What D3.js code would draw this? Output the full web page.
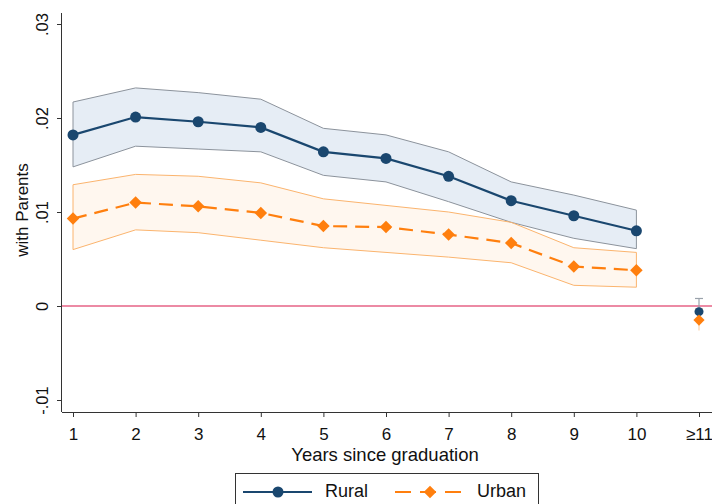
<!DOCTYPE html>
<html><head><meta charset="utf-8">
<script src="https://cdn.jsdelivr.net/npm/d3@7"></script>
<style>body{margin:0;background:#fff}svg{display:block}text{font-family:"Liberation Sans",Arial,sans-serif;fill:#111}</style>
</head><body><svg id="c" width="712" height="504"></svg>
<script>
const years = [1,2,3,4,5,6,7,8,9,10];
const xTickLabels = ["1","2","3","4","5","6","7","8","9","10","≥11"];
const yTicks = [-0.01, 0, 0.01, 0.02, 0.03];
const yTickLabels = ["-.01","0",".01",".02",".03"];
const ruralEst = [0.0182,0.0201,0.0196,0.0190,0.0164,0.0157,0.0138,0.0112,0.0096,0.0080];
const ruralHi  = [0.0217,0.0232,0.0227,0.0220,0.0189,0.0182,0.0164,0.0132,0.0118,0.0102];
const ruralLo  = [0.0148,0.0170,0.0167,0.0164,0.0139,0.0132,0.0111,0.0089,0.0072,0.0061];
const urbanEst = [0.0093,0.0110,0.0106,0.0099,0.0085,0.0084,0.0076,0.0067,0.0042,0.0038];
const urbanHi  = [0.0129,0.0140,0.0138,0.0131,0.0114,0.0107,0.0100,0.0089,0.0062,0.0057];
const urbanLo  = [0.0060,0.0081,0.0078,0.0070,0.0062,0.0057,0.0052,0.0046,0.0022,0.0020];
const lateRural = {x: 11, est: -0.0006, hi: 0.0008, lo: -0.0019};
const lateUrban = {x: 11, est: -0.0015, hi: -0.0003, lo: -0.0026};

const svg = d3.select("#c");
const x = d3.scaleLinear().domain([1, 11]).range([73, 699]);
const y = d3.scaleLinear().domain([-0.01, 0.03]).range([400, 24]);
const axisX0 = 62, axisY0 = 412;

const cR = "#1a476f", cU = "#ff7f0e";

function band(lo, hi, fill, stroke){
  const a = d3.area().x((d,i)=>x(years[i])).y0((d,i)=>y(lo[i])).y1((d,i)=>y(hi[i]));
  svg.append("path").datum(years).attr("d", a).attr("fill", fill).attr("stroke", stroke).attr("stroke-width", 1);
}
band(ruralLo, ruralHi, "#e6edf5", "#8c939c");
band(urbanLo, urbanHi, "rgba(255,200,150,0.15)", "#fbb46e");

// zero line
svg.append("line").attr("x1", axisX0).attr("x2", 712).attr("y1", y(0)).attr("y2", y(0)).attr("stroke", "#d9164b").attr("stroke-width", 1.2);

const line = vals => d3.line().x((d,i)=>x(years[i])).y((d,i)=>y(vals[i]))(years);
svg.append("path").attr("d", line(ruralEst)).attr("fill","none").attr("stroke", cR).attr("stroke-width", 2.2);
svg.append("path").attr("d", line(urbanEst)).attr("fill","none").attr("stroke", cU).attr("stroke-width", 2.2).attr("stroke-dasharray","14,8");

const diamond = d3.symbol().type(d3.symbolDiamond2).size(100);
svg.selectAll(".pr").data(years).join("circle").attr("cx",d=>x(d)).attr("cy",(d,i)=>y(ruralEst[i])).attr("r",5.5).attr("fill",cR);
svg.selectAll(".pu").data(years).join("path").attr("d", diamond).attr("transform",(d,i)=>`translate(${x(d)},${y(urbanEst[i])})`).attr("fill",cU);

// >=11 points with CIs
[[lateUrban, "#fcd2a8"], [lateRural, "#9aa2ab"]].forEach(([p, c])=>{
  svg.append("line").attr("x1",x(p.x)).attr("x2",x(p.x)).attr("y1",y(p.hi)).attr("y2",y(p.lo)).attr("stroke",c).attr("stroke-width",1.2);
  svg.append("line").attr("x1",x(p.x)-4).attr("x2",x(p.x)+4).attr("y1",y(p.hi)).attr("y2",y(p.hi)).attr("stroke",c).attr("stroke-width",1.2);
});
svg.append("circle").attr("cx",x(lateRural.x)).attr("cy",y(lateRural.est)).attr("r",4.5).attr("fill",cR);
svg.append("path").attr("d", d3.symbol().type(d3.symbolDiamond2).size(80)).attr("transform",`translate(${x(lateUrban.x)},${y(lateUrban.est)})`).attr("fill",cU);

const FF = "'Liberation Sans',Arial,sans-serif";
// axes
const yAxis = d3.axisLeft(y).tickValues(yTicks).tickFormat((d,i)=>yTickLabels[i]).tickSize(5).tickPadding(3);
const gy = svg.append("g").attr("transform",`translate(${axisX0},0)`).call(yAxis);
gy.select(".domain").attr("d", `M-0.5,13V${axisY0}`).attr("stroke","#333");
gy.selectAll(".tick line").attr("stroke","#333");
gy.selectAll(".tick text").attr("transform","rotate(-90)").attr("x",0).attr("y",-14).attr("dy","0").attr("text-anchor","middle").style("font-size","16.5px").style("font-family",FF);

const xAxis = d3.axisBottom(x).tickValues(d3.range(1,12)).tickFormat((d,i)=>xTickLabels[i]).tickSize(5).tickPadding(5);
const gx = svg.append("g").attr("transform",`translate(0,${axisY0})`).call(xAxis);
gx.select(".domain").attr("d", `M${axisX0},0.5H712`).attr("stroke","#333");
gx.selectAll(".tick line").attr("stroke","#333");
gx.selectAll(".tick text").attr("y",28).attr("dy","0").style("font-size","17px").style("font-family",FF);

svg.append("text").attr("x",385).attr("y",461).attr("text-anchor","middle").style("font-size","18.5px").text("Years since graduation");
svg.append("text").attr("transform","translate(28,210) rotate(-90)").attr("text-anchor","middle").style("font-size","17px").text("with Parents");

// legend
const lg = svg.append("g");
lg.append("rect").attr("x",235.5).attr("y",473.5).attr("width",303).attr("height",40).attr("fill","#fff").attr("stroke","#333");
const ly = 492;
lg.append("line").attr("x1",243).attr("x2",312).attr("y1",ly).attr("y2",ly).attr("stroke",cR).attr("stroke-width",2.2);
lg.append("circle").attr("cx",278).attr("cy",ly).attr("r",5.5).attr("fill",cR);
lg.append("text").attr("x",325).attr("y",497).style("font-size","18px").text("Rural");
lg.append("line").attr("x1",395).attr("x2",466).attr("y1",ly).attr("y2",ly).attr("stroke",cU).attr("stroke-width",2.2).attr("stroke-dasharray","16,9");
lg.append("path").attr("d",diamond).attr("transform",`translate(430,${ly})`).attr("fill",cU);
lg.append("text").attr("x",477).attr("y",497).style("font-size","18px").text("Urban");
</script></body></html>
